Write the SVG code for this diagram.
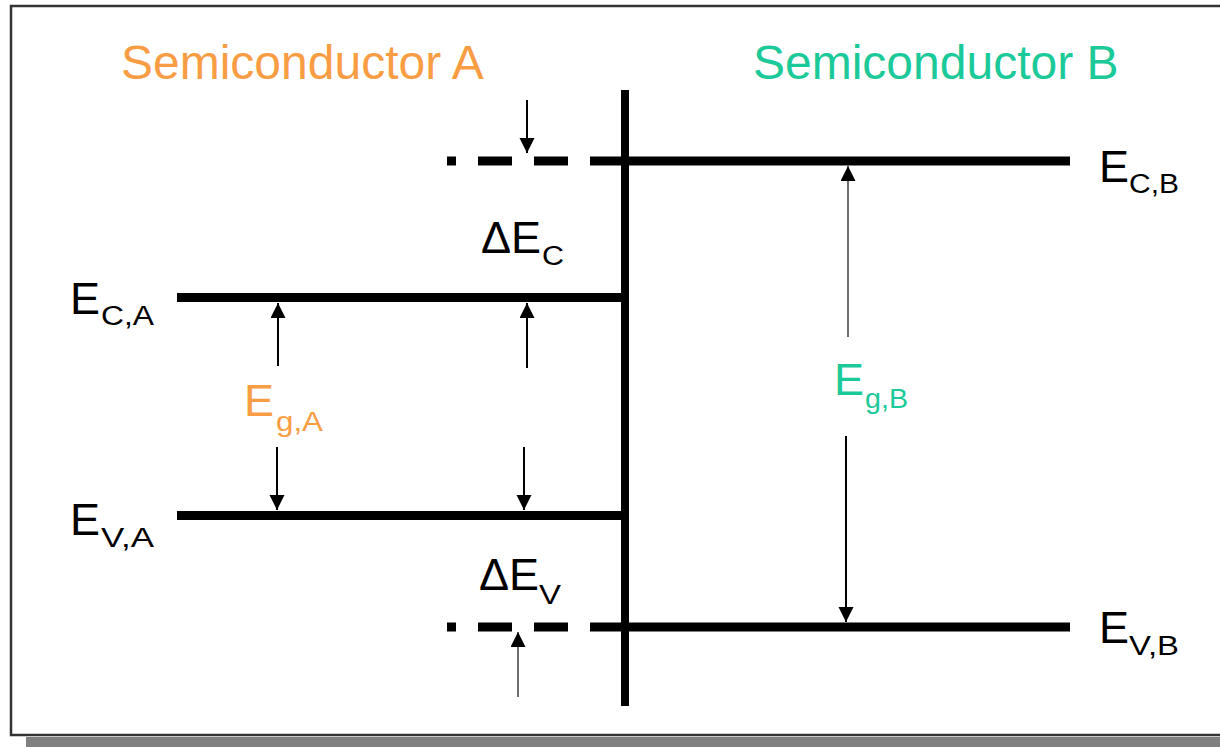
<svg xmlns="http://www.w3.org/2000/svg" width="1220" height="747" viewBox="0 0 1220 747">
<defs>
<style>
.lvl{stroke:#000;stroke-width:9;fill:none}
.arr{stroke:#000;stroke-width:2;fill:none;marker-end:url(#ah)}
.arrg{stroke:#6e6e6e;stroke-width:2;fill:none;marker-end:url(#ah)}
.t{font-family:"Liberation Sans",Arial,sans-serif;fill:#000}
.big{font-size:45px}
.sub{font-size:27px}
.ttl{font-size:48px}
.or{fill:#F99D45}
.gr{fill:#1CC999}
</style>
<marker id="ah" markerUnits="userSpaceOnUse" markerWidth="16" markerHeight="16" refX="15" refY="7.5" orient="auto">
<path d="M0,0 L15,7.5 L0,15 z" fill="#000"/>
</marker>
</defs>
<rect x="0" y="0" width="1220" height="747" fill="#fff"/>
<rect x="26" y="737" width="1194" height="10" fill="#808080"/>
<rect x="11" y="6" width="1220" height="729" fill="#fff" stroke="#333" stroke-width="2.5"/>

<g id="junction"><line x1="625" y1="90" x2="625" y2="706" stroke="#000" stroke-width="8"/></g>

<g id="EC_A_level"><line class="lvl" x1="177" y1="297.5" x2="625" y2="297.5"/></g>
<g id="EV_A_level"><line class="lvl" x1="177" y1="515.5" x2="625" y2="515.5"/></g>
<g id="EC_B_level">
<line class="lvl" x1="590" y1="161" x2="1070" y2="161"/>
<line class="lvl" x1="447" y1="161" x2="568" y2="161" stroke-dasharray="9,22,34,22,34,22"/>
</g>
<g id="EV_B_level">
<line class="lvl" x1="590" y1="627" x2="1070" y2="627"/>
<line class="lvl" x1="447" y1="627" x2="568" y2="627" stroke-dasharray="9,22,34,22,34,22"/>
</g>

<g id="connectors">
<line class="arr" x1="527" y1="100" x2="527" y2="153"/>
<line class="arr" x1="278" y1="366" x2="278" y2="303"/>
<line class="arr" x1="277" y1="447" x2="277" y2="510"/>
<line class="arr" x1="527" y1="368" x2="527" y2="303"/>
<line class="arr" x1="524" y1="447" x2="524" y2="510"/>
<line class="arrg" x1="848" y1="337" x2="848" y2="166"/>
<line class="arr" x1="846" y1="436" x2="846" y2="622"/>
<line class="arrg" x1="518" y1="697" x2="518" y2="632"/>
</g>

<g id="title_A"><text class="t ttl or" x="121" y="79">Semiconductor A</text></g>
<g id="title_B"><text class="t ttl gr" x="753" y="79">Semiconductor B</text></g>

<g id="label_EC_A"><text class="t big" x="70" y="314">E</text><text class="t sub" x="101" y="325" textLength="53" lengthAdjust="spacingAndGlyphs">C,A</text></g>
<g id="label_EV_A"><text class="t big" x="70" y="535">E</text><text class="t sub" x="101" y="547" textLength="53" lengthAdjust="spacingAndGlyphs">V,A</text></g>
<g id="label_EC_B"><text class="t big" x="1099" y="181.5">E</text><text class="t sub" x="1129" y="193" textLength="50" lengthAdjust="spacingAndGlyphs">C,B</text></g>
<g id="label_EV_B"><text class="t big" x="1099" y="643">E</text><text class="t sub" x="1129" y="655" textLength="50" lengthAdjust="spacingAndGlyphs">V,B</text></g>
<g id="label_dEC"><text class="t big" x="481" y="252.5">ΔE</text><text class="t sub" x="542" y="265" textLength="22" lengthAdjust="spacingAndGlyphs">C</text></g>
<g id="label_dEV"><text class="t big" x="479" y="590">ΔE</text><text class="t sub" x="539" y="604" textLength="22" lengthAdjust="spacingAndGlyphs">V</text></g>
<g id="label_EgA"><text class="t big or" x="244" y="416">E</text><text class="t sub or" x="276" y="431" textLength="47" lengthAdjust="spacingAndGlyphs">g,A</text></g>
<g id="label_EgB"><text class="t big gr" x="834" y="395">E</text><text class="t sub gr" x="865" y="408" textLength="43" lengthAdjust="spacingAndGlyphs">g,B</text></g>
</svg>
